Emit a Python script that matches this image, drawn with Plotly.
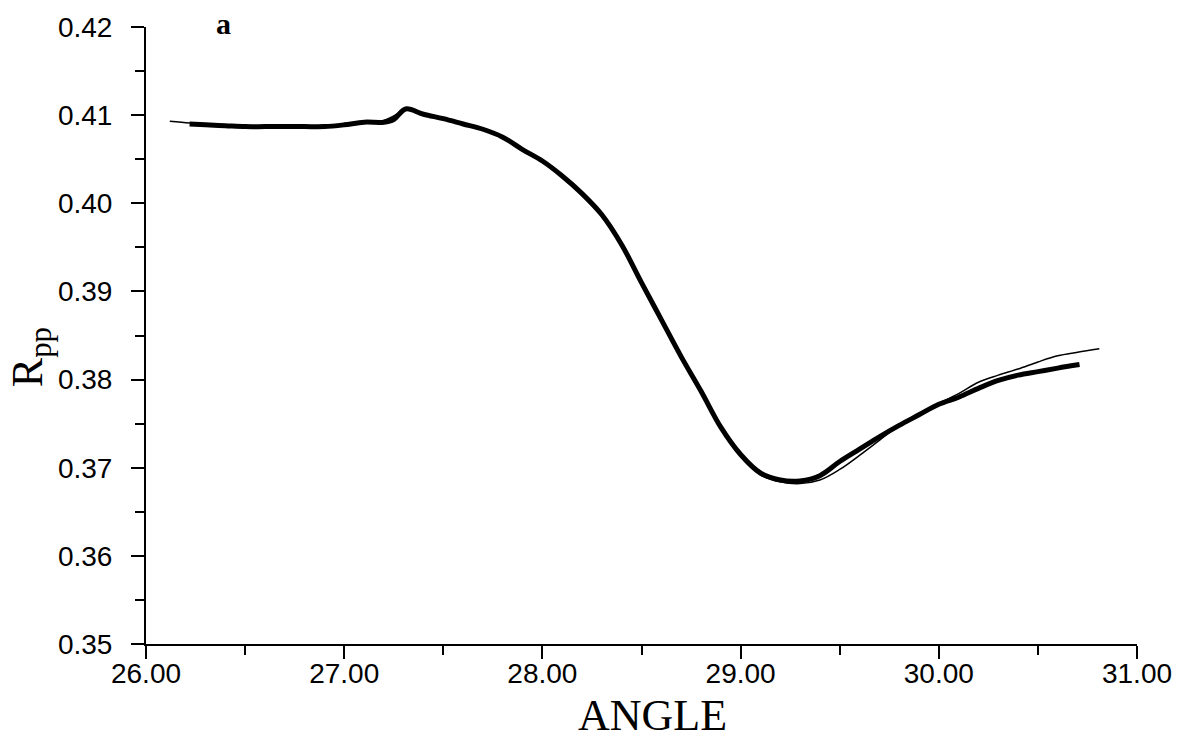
import plotly.graph_objects as go

# Measured reflectivity (thick trace)
angle_meas = [26.22, 26.30, 26.40, 26.50, 26.60, 26.70, 26.80, 26.90, 27.00, 27.10,
              27.20, 27.25, 27.31, 27.40, 27.50, 27.60, 27.70, 27.80, 27.90, 28.00,
              28.10, 28.20, 28.30, 28.40, 28.50, 28.60, 28.70, 28.80, 28.90, 29.00,
              29.10, 29.20, 29.30, 29.40, 29.50, 29.60, 29.70, 29.80, 29.90, 30.00,
              30.10, 30.20, 30.30, 30.40, 30.50, 30.60, 30.71]
rpp_meas = [0.4090, 0.4089, 0.4088, 0.4087, 0.4087, 0.4087, 0.4087, 0.4087, 0.4089, 0.4092,
            0.4092, 0.4095, 0.4107, 0.4101, 0.4096, 0.4090, 0.4084, 0.4075, 0.4061, 0.4048,
            0.4031, 0.4011, 0.3987, 0.3953, 0.3910, 0.3868, 0.3826, 0.3787, 0.3746, 0.3715,
            0.3694, 0.3686, 0.3685, 0.3691, 0.3707, 0.3721, 0.3735, 0.3748, 0.3760, 0.3772,
            0.3780, 0.3790, 0.3799, 0.3805, 0.3809, 0.3813, 0.3817]

# Fitted theoretical curve (thin trace)
angle_fit = [26.12, 26.22, 26.30, 26.40, 26.50, 26.60, 26.70, 26.80, 26.90, 27.00,
             27.10, 27.20, 27.25, 27.31, 27.40, 27.50, 27.60, 27.70, 27.80, 27.90,
             28.00, 28.10, 28.20, 28.30, 28.40, 28.50, 28.60, 28.70, 28.80, 28.90,
             29.00, 29.10, 29.20, 29.30, 29.40, 29.50, 29.60, 29.70, 29.80, 29.90,
             30.00, 30.10, 30.20, 30.30, 30.40, 30.50, 30.60, 30.70, 30.81]
rpp_fit = [0.4093, 0.4091, 0.4089, 0.4088, 0.4087, 0.4087, 0.4087, 0.4087, 0.4087, 0.4089,
           0.4092, 0.4094, 0.4099, 0.4107, 0.4101, 0.4096, 0.4090, 0.4084, 0.4075, 0.4061,
           0.4048, 0.4031, 0.4011, 0.3987, 0.3953, 0.3910, 0.3868, 0.3826, 0.3787, 0.3746,
           0.3713, 0.3692, 0.3684, 0.3682, 0.3686, 0.3698, 0.3714, 0.3731, 0.3748, 0.3761,
           0.3773, 0.3784, 0.3797, 0.3805, 0.3812, 0.3820, 0.3827, 0.3831, 0.3835]

x_ticks = [26, 27, 28, 29, 30, 31]
x_tick_labels = ["26.00", "27.00", "28.00", "29.00", "30.00", "31.00"]
y_ticks = [0.35, 0.36, 0.37, 0.38, 0.39, 0.40, 0.41, 0.42]
y_tick_labels = ["0.35", "0.36", "0.37", "0.38", "0.39", "0.40", "0.41", "0.42"]

fig = go.Figure()
fig.add_trace(go.Scatter(x=angle_fit, y=rpp_fit, mode="lines",
                         line=dict(color="black", width=1.5, shape="spline", smoothing=1.0),
                         showlegend=False))
fig.add_trace(go.Scatter(x=angle_meas, y=rpp_meas, mode="lines",
                         line=dict(color="black", width=5, shape="spline", smoothing=1.0),
                         showlegend=False))

tick_font = dict(family="Liberation Sans, Arial, sans-serif", size=28, color="black")
serif = "Liberation Serif, Times New Roman, serif"

fig.update_layout(
    width=1192, height=742,
    margin=dict(l=146, r=55, t=22, b=98),
    paper_bgcolor="white", plot_bgcolor="white",
    xaxis=dict(range=[26, 31], showgrid=False, zeroline=False,
               showline=True, linecolor="black", linewidth=2,
               ticks="outside", ticklen=13, tickwidth=2, tickcolor="black",
               tickvals=x_ticks, ticktext=x_tick_labels, tickfont=tick_font,
               ticklabelstandoff=-10,
               minor=dict(dtick=0.5, ticks="outside", ticklen=9, tickwidth=2,
                          tickcolor="black", showgrid=False)),
    yaxis=dict(range=[0.35, 0.42], showgrid=False, zeroline=False,
               showline=True, linecolor="black", linewidth=2,
               ticks="outside", ticklen=13, tickwidth=2, tickcolor="black",
               tickvals=y_ticks, ticktext=y_tick_labels, tickfont=tick_font,
               ticklabelstandoff=13,
               minor=dict(dtick=0.005, ticks="outside", ticklen=9, tickwidth=2,
                          tickcolor="black", showgrid=False)),
    annotations=[
        dict(text="<b>a</b>", x=0.0787, y=1.006, xref="paper", yref="paper",
             showarrow=False, xanchor="center", yanchor="middle",
             font=dict(family=serif, size=30, color="black")),
        dict(text="ANGLE", x=0.5106, y=-0.116, xref="paper", yref="paper",
             showarrow=False, xanchor="center", yanchor="middle",
             font=dict(family=serif, size=44, color="black")),
        dict(text="R<sub>pp</sub>", x=-0.117, y=0.465, xref="paper", yref="paper",
             showarrow=False, xanchor="center", yanchor="middle", textangle=-90,
             font=dict(family=serif, size=44, color="black")),
    ],
)

fig.write_html("out.html")
